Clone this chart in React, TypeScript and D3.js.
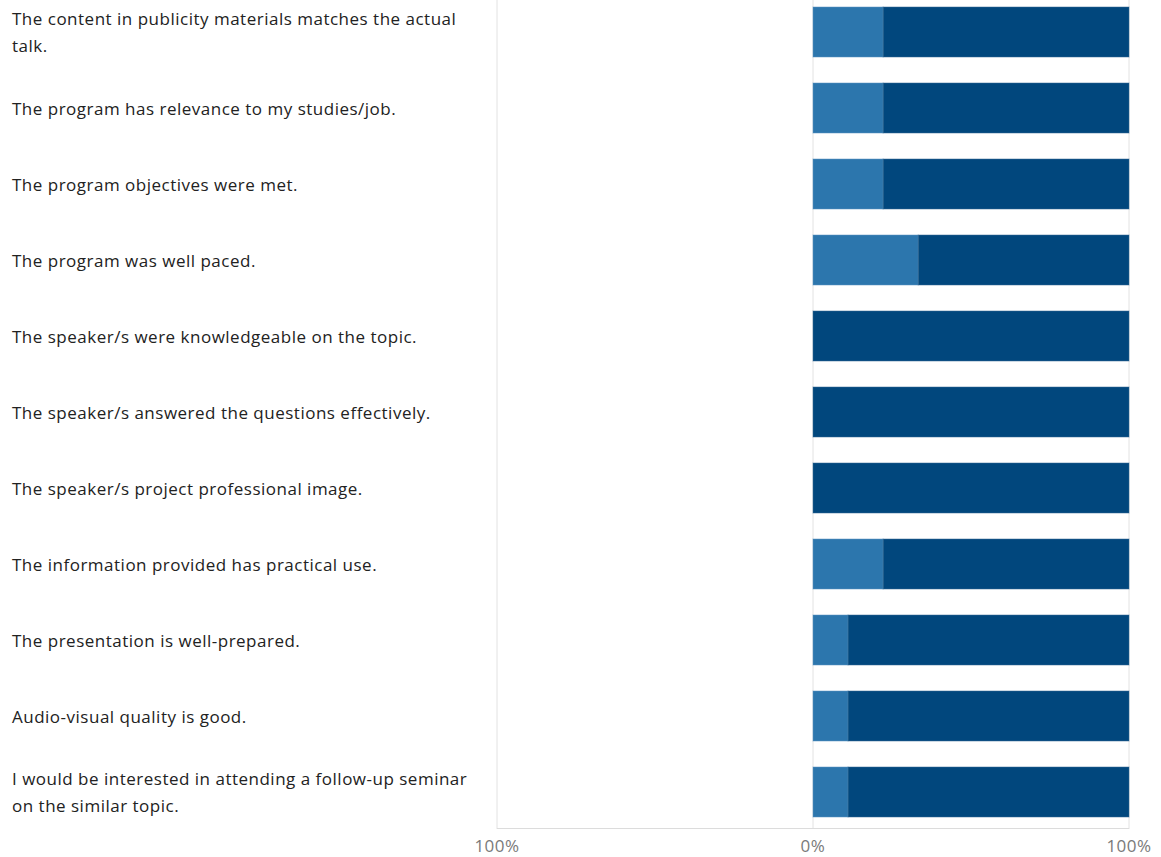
import React from "react";
import * as d3 from "d3";

const categories: string[] = [
  "The content in publicity materials matches the actual\ntalk.",
  "The program has relevance to my studies/job.",
  "The program objectives were met.",
  "The program was well paced.",
  "The speaker/s were knowledgeable on the topic.",
  "The speaker/s answered the questions effectively.",
  "The speaker/s project professional image.",
  "The information provided has practical use.",
  "The presentation is well-prepared.",
  "Audio-visual quality is good.",
  "I would be interested in attending a follow-up seminar\non the similar topic.",
];

const agree: number[] = [22.2, 22.2, 22.2, 33.3, 0, 0, 0, 22.2, 11.1, 11.1, 11.1];
const stronglyAgree: number[] = [77.8, 77.8, 77.8, 66.7, 100, 100, 100, 77.8, 88.9, 88.9, 88.9];

const tickValues: number[] = [-100, 0, 100];
const tickLabels: string[] = ["100%", "0%", "100%"];

const W = 1161;
const H = 857;
const LIGHT = "#2c76ad";
const DARK = "#01477d";
const FONT = "'Open Sans', 'Noto Sans', sans-serif";

export default function App() {
  const x = d3.scaleLinear().domain([-100, 100]).range([497, 1129]);
  const y = d3
    .scaleBand<number>()
    .domain(d3.range(categories.length))
    .range([-6, 830])
    .paddingInner(0.342)
    .paddingOuter(0.171);

  const stack = d3
    .stack<number>()
    .keys(["a", "s"])
    .value((i, key) => (key === "a" ? agree[i] : stronglyAgree[i]));
  const series = stack(d3.range(categories.length));
  const colors = [LIGHT, DARK];

  return (
    <div style={{ position: "absolute", left: 0, top: 0 }}>
      <svg width={W} height={H} style={{ display: "block", background: "#fff" }}>
        {tickValues.map((t, i) => (
          <line key={"g" + i} x1={x(t)} x2={x(t)} y1={0} y2={829} stroke="#e2e2e2" strokeWidth={1} />
        ))}
        <line x1={x(-100)} x2={x(100)} y1={828.5} y2={828.5} stroke="#dcdcdc" strokeWidth={1} />
        {series.map((s, si) =>
          s.map((d, i) =>
            d[1] - d[0] > 0 ? (
              <rect
                key={si + "-" + i}
                x={x(d[0])}
                y={y(i)!}
                width={x(d[1]) - x(d[0])}
                height={y.bandwidth()}
                fill={colors[si]}
                stroke={si === 0 ? "#5d95c2" : "#3a6c96"}
                strokeOpacity={0.5}
                strokeWidth={1}
              />
            ) : null
          )
        )}
        {categories.map((c, i) => {
          const lines = c.split("\n");
          const cy = y(i)! + y.bandwidth() / 2;
          const lh = 27;
          const start = cy - ((lines.length - 1) * lh) / 2;
          return (
            <text key={"l" + i} x={12} fontFamily={FONT} fontSize={17} letterSpacing={0.5} fill="#222">
              {lines.map((ln, j) => (
                <tspan key={j} x={12} y={start + j * lh} dominantBaseline="central">
                  {ln}
                </tspan>
              ))}
            </text>
          );
        })}
        {tickValues.map((t, i) => (
          <text
            key={"t" + i}
            x={x(t)}
            y={845}
            textAnchor="middle"
            dominantBaseline="central"
            fontFamily={FONT}
            fontSize={17}
            letterSpacing={0.5}
            fill="#7a7a7a"
          >
            {tickLabels[i]}
          </text>
        ))}
      </svg>
    </div>
  );
}
